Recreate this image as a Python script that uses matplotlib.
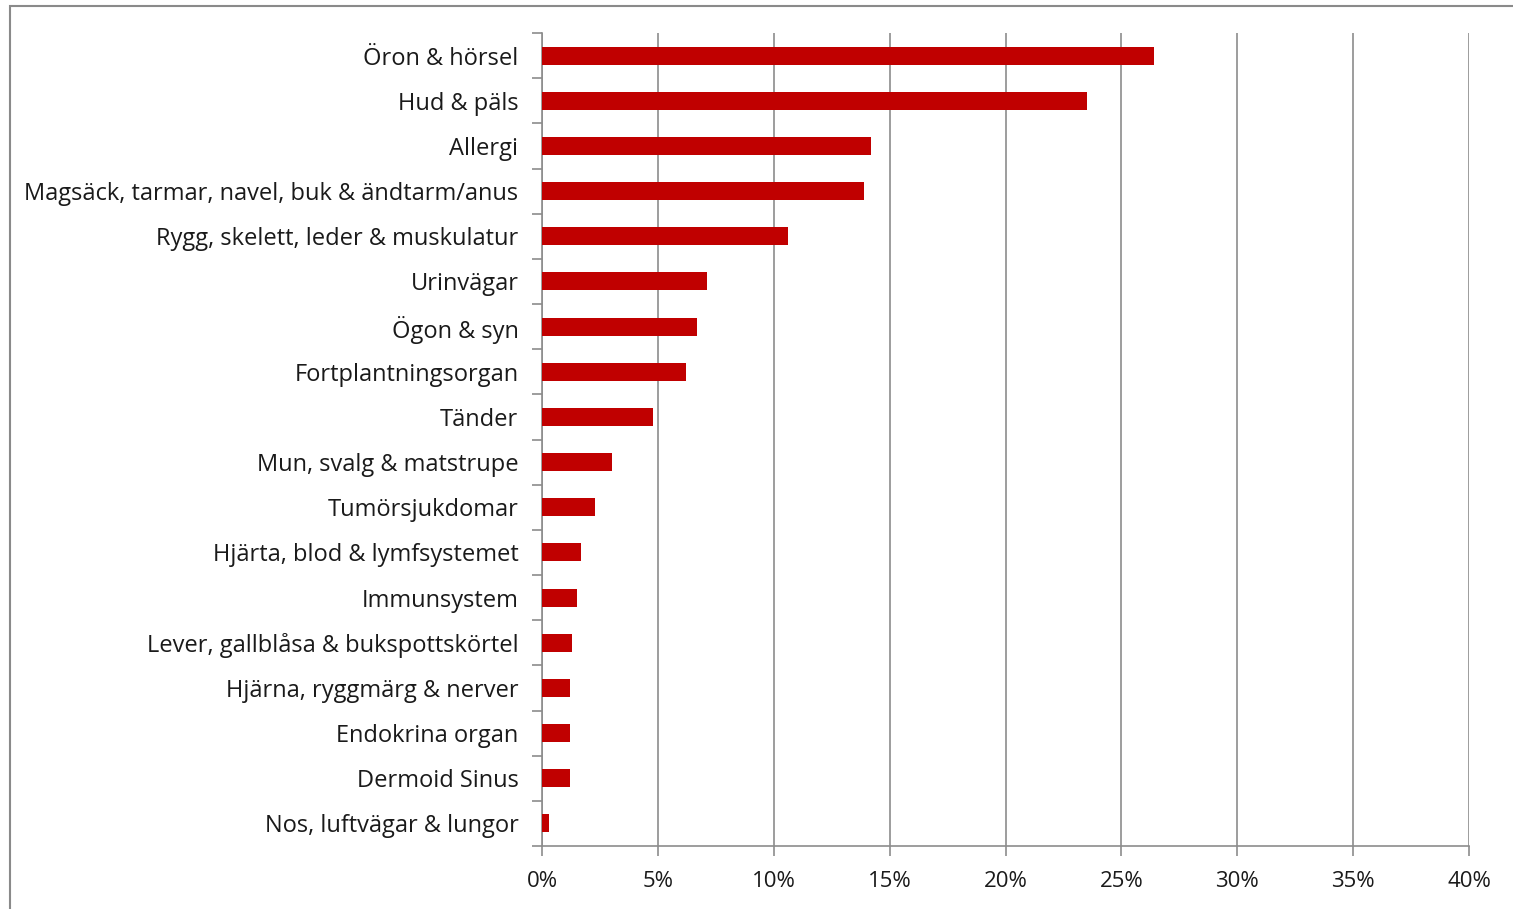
import matplotlib.pyplot as plt
import matplotlib.patches as mpatches
import numpy as np

kategorier = [
    "Öron & hörsel",
    "Hud & päls",
    "Allergi",
    "Magsäck, tarmar, navel, buk & ändtarm/anus",
    "Rygg, skelett, leder & muskulatur",
    "Urinvägar",
    "Ögon & syn",
    "Fortplantningsorgan",
    "Tänder",
    "Mun, svalg & matstrupe",
    "Tumörsjukdomar",
    "Hjärta, blod & lymfsystemet",
    "Immunsystem",
    "Lever, gallblåsa & bukspottskörtel",
    "Hjärna, ryggmärg & nerver",
    "Endokrina organ",
    "Dermoid Sinus",
    "Nos, luftvägar & lungor",
]
andel = [26.4, 23.5, 14.2, 13.9, 10.6, 7.1, 6.7, 6.2, 4.8, 3.0,
         2.3, 1.7, 1.5, 1.3, 1.2, 1.2, 1.2, 0.3]
x_ticks = [0, 5, 10, 15, 20, 25, 30, 35, 40]

plt.rcParams["font.family"] = ["Open Sans", "DejaVu Sans"]

fig = plt.figure(figsize=(15.13, 9.09), dpi=100)
ax = fig.add_axes([542 / 1513, 1 - 846 / 909, (1469 - 542) / 1513, (846 - 33) / 909])

# ram runt diagrammet (beskuren till höger och nedtill)
fig.patches.append(mpatches.Rectangle((10 / 1513, -0.1), 1.2, 1 - 6 / 909 + 0.1,
                                      transform=fig.transFigure, fill=False,
                                      edgecolor="#8a8a8a", linewidth=1.5))

y = np.arange(len(kategorier))
ax.barh(y, andel, height=0.4, color="#C00000", zorder=3)

ax.set_xlim(0, 40)
ax.set_ylim(len(kategorier) - 0.5, -0.5)
ax.set_xticks(x_ticks)
ax.set_xticklabels([f"{t}%" for t in x_ticks])
ax.set_yticks(y)
ax.set_yticklabels(kategorier)
ax.set_yticks(np.arange(len(kategorier) + 1) - 0.5, minor=True)

ax.grid(axis="x", color="#8c8c8c", linewidth=1.2, zorder=0)
for s in ["top", "right"]:
    ax.spines[s].set_visible(False)
for s in ["left", "bottom"]:
    ax.spines[s].set_color("#8c8c8c")
    ax.spines[s].set_linewidth(1.2)

ax.tick_params(axis="y", which="major", length=0, pad=17, labelsize=17, labelcolor="#1a1a1a")
ax.tick_params(axis="y", which="minor", length=7, width=1.2, color="#8c8c8c")
ax.tick_params(axis="x", length=7, width=1.2, color="#8c8c8c", pad=11, labelsize=16, labelcolor="#1a1a1a")

fig.savefig("out.png", dpi=100)
